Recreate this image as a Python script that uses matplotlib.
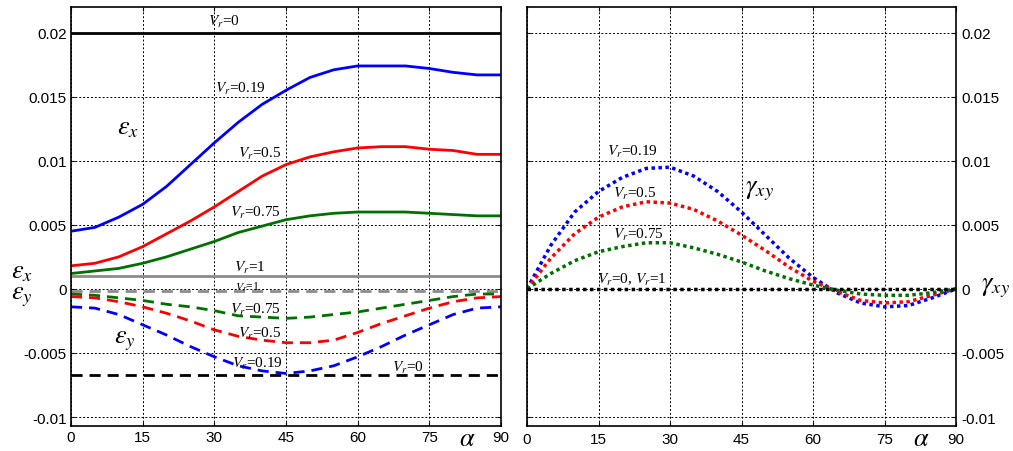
import numpy as np
import matplotlib.pyplot as plt

plt.rcParams['font.family'] = ['Liberation Sans', 'DejaVu Sans']
plt.rcParams['mathtext.fontset'] = 'stix'

# --- data ---
alpha = [0, 5, 10, 15, 20, 25, 30, 35, 40, 45, 50, 55, 60, 65, 70, 75, 80, 85, 90]

ex_019 = [0.0045, 0.0048, 0.0056, 0.0066, 0.0080, 0.0097, 0.0114, 0.0130, 0.0144, 0.0155,
          0.0165, 0.0171, 0.0174, 0.0174, 0.0174, 0.0172, 0.0169, 0.0167, 0.0167]
ex_05 = [0.0018, 0.0020, 0.0025, 0.0033, 0.0043, 0.0053, 0.0064, 0.0076, 0.0088, 0.0097,
         0.0103, 0.0107, 0.0110, 0.0111, 0.0111, 0.0109, 0.0108, 0.0105, 0.0105]
ex_075 = [0.0012, 0.0014, 0.0016, 0.0020, 0.0025, 0.0031, 0.0037, 0.0044, 0.0049, 0.0054,
          0.0057, 0.0059, 0.0060, 0.0060, 0.0060, 0.0059, 0.0058, 0.0057, 0.0057]
ex_0 = 0.02
ex_1 = 0.001

ey_075 = [-0.0004, -0.0005, -0.0007, -0.0009, -0.0012, -0.0014, -0.0017, -0.0021, -0.0022, -0.0023,
          -0.0022, -0.0020, -0.0018, -0.0015, -0.0012, -0.0009, -0.0006, -0.0004, -0.0004]
ey_05 = [-0.0006, -0.0007, -0.0010, -0.0014, -0.0019, -0.0025, -0.0032, -0.0037, -0.0040, -0.0042,
         -0.0042, -0.0040, -0.0034, -0.0027, -0.0021, -0.0015, -0.0010, -0.0007, -0.0006]
ey_019 = [-0.0014, -0.0015, -0.0020, -0.0028, -0.0036, -0.0045, -0.0053, -0.0060, -0.0064, -0.0066,
          -0.0064, -0.0060, -0.0053, -0.0045, -0.0036, -0.0028, -0.0020, -0.0015, -0.0014]
ey_0 = -0.0067
ey_1 = -0.0002

gxy_019 = [0, 0.0034, 0.0060, 0.0076, 0.0087, 0.0094, 0.0095, 0.0088, 0.0076, 0.0060,
           0.0042, 0.0024, 0.0009, -0.0003, -0.0011, -0.0014, -0.0013, -0.0007, 0]
gxy_05 = [0, 0.0024, 0.0043, 0.0056, 0.0064, 0.0068, 0.0067, 0.0062, 0.0053, 0.0042,
          0.0030, 0.0017, 0.0006, -0.0002, -0.0009, -0.0011, -0.0010, -0.0005, 0]
gxy_075 = [0, 0.0012, 0.0022, 0.0029, 0.0033, 0.0036, 0.0036, 0.0032, 0.0027, 0.0021,
           0.0014, 0.0008, 0.0003, -0.0001, -0.0004, -0.0005, -0.0005, -0.0003, 0]
gxy_0 = 0.0

xticks = [0, 15, 30, 45, 60, 75, 90]
yticks = [-0.01, -0.005, 0, 0.005, 0.01, 0.015, 0.02]
ytick_labels = ['-0.01', '-0.005', '0', '0.005', '0.01', '0.015', '0.02']

BLUE, RED, GREEN, GRAY = '#0000ff', '#ff0000', '#007000', '#8c8c8c'
serif = {'family': ['Liberation Serif', 'DejaVu Serif'], 'fontsize': 11}

fig = plt.figure(figsize=(10.13, 4.52), dpi=100)
W, H = 1013, 452
axL = fig.add_axes([71 / W, 1 - 427 / H, 430 / W, 419 / H])
axR = fig.add_axes([527 / W, 1 - 427 / H, 429 / W, 419 / H])

for ax in (axL, axR):
    ax.set_xlim(0, 90)
    ax.set_ylim(-0.0107, 0.022)
    ax.set_xticks(xticks)
    ax.set_yticks(yticks)
    ax.set_xticklabels([str(t) for t in xticks], fontsize=11)
    ax.set_yticklabels(ytick_labels, fontsize=11)
    ax.grid(True, color='black', linestyle=(0, (2, 2)), linewidth=0.7)
    ax.tick_params(direction='in', length=3, top=True, right=True, pad=3)
    for s in ax.spines.values():
        s.set_linewidth(1.2)

axR.yaxis.tick_right()
axR.tick_params(left=True, labelleft=False, labelright=True, pad=4)

# left panel: eps_x (solid) and eps_y (dashed)
lw = 2.0
axL.axhline(ex_0, color='black', lw=lw)
axL.plot(alpha, ex_019, color=BLUE, lw=lw)
axL.plot(alpha, ex_05, color=RED, lw=lw)
axL.plot(alpha, ex_075, color=GREEN, lw=lw)
axL.axhline(ex_1, color=GRAY, lw=lw)
dash = (0, (4, 2.5))
axL.axhline(ey_1, color=GRAY, lw=lw, ls=dash)
axL.plot(alpha, ey_075, color=GREEN, lw=lw, ls=dash)
axL.plot(alpha, ey_05, color=RED, lw=lw, ls=dash)
axL.plot(alpha, ey_019, color=BLUE, lw=lw, ls=dash)
axL.axhline(ey_0, color='black', lw=lw, ls=dash)

ann = dict(ha='center', va='center', **serif)
axL.text(32, 0.0209, '$V_r$=0', **ann)
axL.text(35.5, 0.0157, '$V_r$=0.19', **ann)
axL.text(39.5, 0.0106, '$V_r$=0.5', **ann)
axL.text(38.5, 0.0060, '$V_r$=0.75', **ann)
axL.text(37.5, 0.0017, '$V_r$=1', **ann)
axL.text(37, 0.0002, '$V_r$=1', family=serif['family'], fontsize=8.5, ha='center', va='center')
axL.text(38.5, -0.0016, '$V_r$=0.75', **ann)
axL.text(39.5, -0.0034, '$V_r$=0.5', **ann)
axL.text(39, -0.0058, '$V_r$=0.19', **ann)
axL.text(70.5, -0.0061, '$V_r$=0', **ann)
axL.text(12, 0.0126, r'$\varepsilon_x$', fontsize=19, ha='center', va='center')
axL.text(11.3, -0.0040, r'$\varepsilon_y$', fontsize=19, ha='center', va='center')
fig.text(22 / W, 1 - 272 / H, r'$\varepsilon_x$', fontsize=19, ha='center', va='center')
fig.text(22 / W, 1 - 297 / H, r'$\varepsilon_y$', fontsize=19, ha='center', va='center')
fig.text(467 / W, 1 - 439 / H, r'$\alpha$', fontsize=19, ha='center', va='center')

# right panel: gamma_xy (dotted)
dot = (0, (1, 1))
lwd = 2.5
axR.plot(alpha, gxy_019, color=BLUE, lw=lwd, ls=dot)
axR.plot(alpha, gxy_05, color=RED, lw=lwd, ls=dot)
axR.plot(alpha, gxy_075, color=GREEN, lw=lwd, ls=dot)
axR.axhline(gxy_0, color='black', lw=lwd, ls=dot)

axR.text(22.2, 0.0108, '$V_r$=0.19', **ann)
axR.text(22.6, 0.0075, '$V_r$=0.5', **ann)
axR.text(23.3, 0.0043, '$V_r$=0.75', **ann)
axR.text(22, 0.0008, '$V_r$=0, $V_r$=1', **ann)
axR.text(48.8, 0.0077, r'$\gamma_{xy}$', fontsize=19, ha='center', va='center')
fig.text(995 / W, 1 - 288 / H, r'$\gamma_{xy}$', fontsize=19, ha='center', va='center')
fig.text(921 / W, 1 - 439 / H, r'$\alpha$', fontsize=19, ha='center', va='center')

fig.savefig('out.png', dpi=100)
